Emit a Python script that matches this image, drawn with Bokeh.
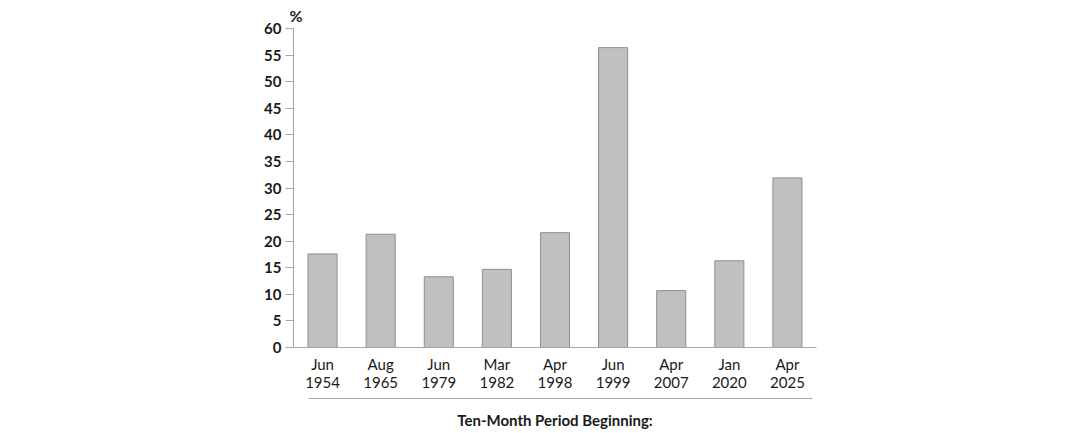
from bokeh.plotting import figure
from bokeh.models import (FactorRange, Range1d, CategoricalAxis, FixedTicker)
from bokeh.embed import file_html
from bokeh.resources import INLINE

# ---- data ----
months = ["Jun", "Aug", "Jun", "Mar", "Apr", "Jun", "Apr", "Jan", "Apr"]
years = ["1954", "1965", "1979", "1982", "1998", "1999", "2007", "2020", "2025"]
values = [17.6, 21.3, 13.3, 14.7, 21.6, 56.4, 10.7, 16.3, 31.9]
y_ticks = [0, 5, 10, 15, 20, 25, 30, 35, 40, 45, 50, 55, 60]
x_title = "Ten-Month Period Beginning:"
unit_label = "%"

factors = [f"{m}\n{y}" for m, y in zip(months, years)]

FONT = "Lato"
AXIS_GRAY = "#a6a6a6"
TEXT = "#1a1a1a"

p = figure(width=1064, height=432, x_range=FactorRange(*factors),
           y_range=Range1d(0, 60), output_backend="svg",
           toolbar_location=None,
           min_border_left=293, min_border_right=248,
           min_border_top=28, min_border_bottom=85)
p.outline_line_color = None
p.grid.grid_line_color = None
p.background_fill_color = "white"
p.border_fill_color = "white"

# unit label as a left-aligned title above the frame
p.title.text = unit_label
p.title.align = "left"
p.title.offset = -4
p.title.standoff = 7
p.title.text_font = FONT
p.title.text_font_style = "bold"
p.title.text_font_size = "16px"
p.title.text_color = TEXT

p.vbar(x=factors, top=values, width=0.5, fill_color="#c0c0c0",
       line_color="#8f8f8f", line_width=1)

# y axis
ya = p.yaxis[0]
ya.ticker = FixedTicker(ticks=y_ticks)
ya.axis_line_color = AXIS_GRAY
ya.major_tick_line_color = AXIS_GRAY
ya.major_tick_out = 8
ya.major_tick_in = 0
ya.minor_tick_line_color = None
ya.major_label_text_font = FONT
ya.major_label_text_font_style = "bold"
ya.major_label_text_font_size = "15px"
ya.major_label_text_color = TEXT
ya.major_label_standoff = 4

# x axis (categories)
xa = p.xaxis[0]
xa.axis_line_color = AXIS_GRAY
xa.major_tick_line_color = None
xa.major_tick_out = 0
xa.major_tick_in = 0
xa.minor_tick_line_color = None
xa.major_label_text_font = FONT
xa.major_label_text_font_size = "15px"
xa.major_label_text_color = TEXT
xa.major_label_text_line_height = 1.0
xa.major_label_standoff = 7
xa.axis_label = " "
xa.axis_label_text_font_size = "1px"
xa.axis_label_standoff = 1

# separator line + title as a second axis below
sep = CategoricalAxis(axis_label=x_title)
sep.bounds = (0.26, 8.93)
sep.axis_line_color = AXIS_GRAY
sep.major_tick_line_color = None
sep.major_tick_out = 0
sep.major_tick_in = 0
sep.minor_tick_line_color = None
sep.major_label_text_font_size = "0px"
sep.major_label_text_color = None
sep.major_label_standoff = 0
sep.axis_label_text_font = FONT
sep.axis_label_text_font_style = "bold"
sep.axis_label_text_font_size = "15px"
sep.axis_label_text_color = TEXT
sep.axis_label_standoff = 12
p.add_layout(sep, "below")

open("out.html", "w").write(file_html(p, INLINE))
